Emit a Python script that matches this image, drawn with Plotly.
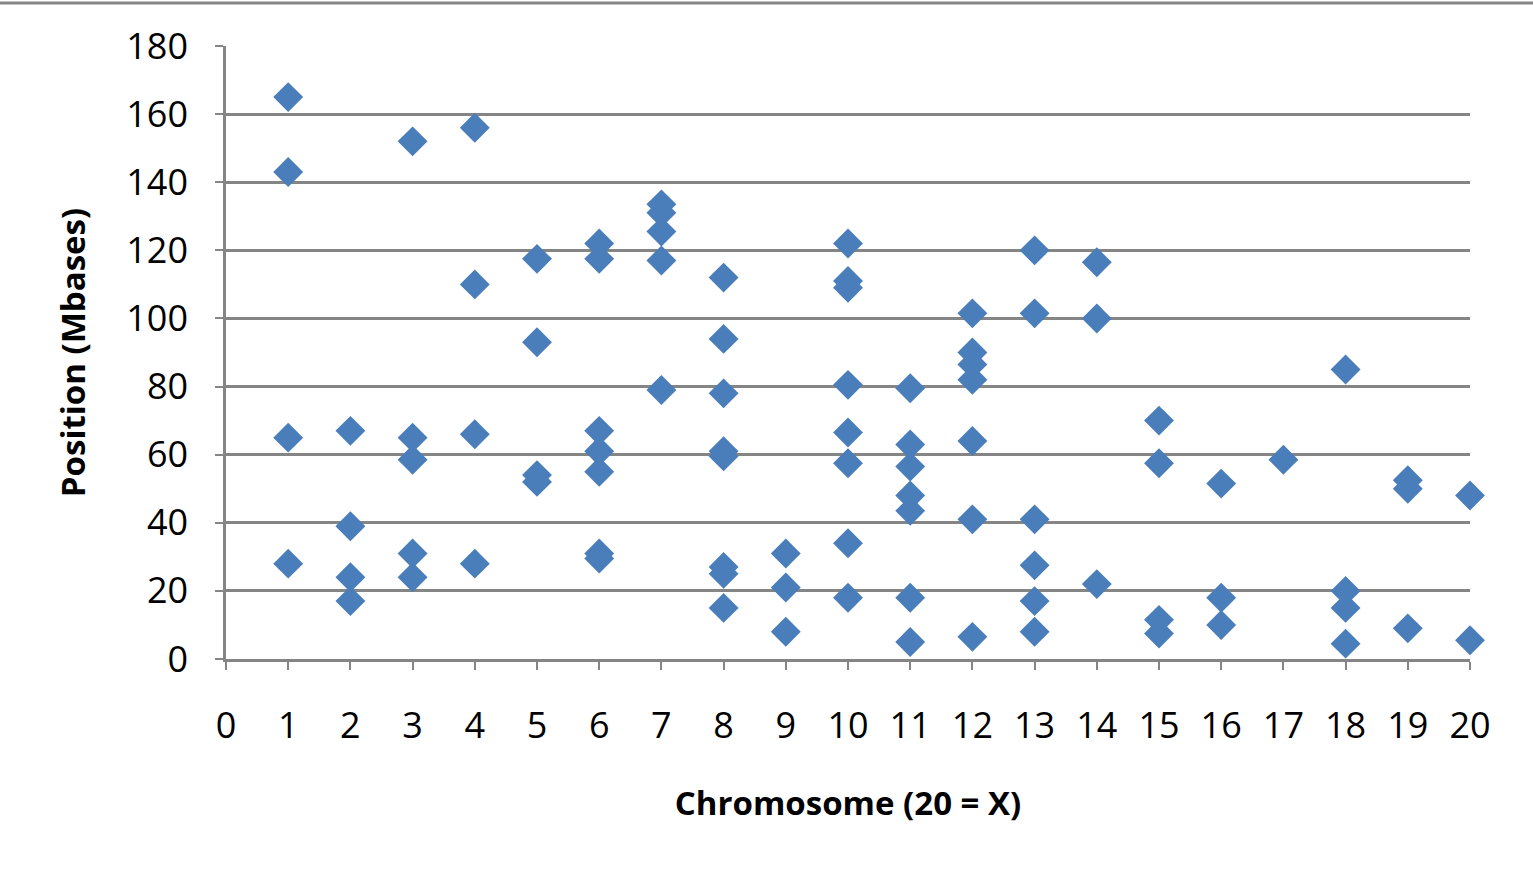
import plotly.graph_objects as go

# Chromosome number for each point (20 = X)
chromosome = (
    [1] * 4 + [2] * 4 + [3] * 5 + [4] * 4 + [5] * 4 + [6] * 7 + [7] * 5 +
    [8] * 8 + [9] * 3 + [10] * 8 + [11] * 7 + [12] * 7 + [13] * 6 + [14] * 3 +
    [15] * 4 + [16] * 3 + [17] * 1 + [18] * 4 + [19] * 3 + [20] * 2
)

# Position in Mbases
position = [
    165, 143, 65, 28,                      # 1
    67, 39, 24, 17,                        # 2
    152, 65, 58.5, 31, 24,                 # 3
    156, 110, 66, 28,                      # 4
    117.5, 93, 54, 52,                     # 5
    122, 117.5, 67, 61, 55, 31, 29.5,      # 6
    133.5, 131, 125.5, 117, 79,            # 7
    112, 94, 78, 61, 59.5, 27, 25, 15,     # 8
    31, 21, 8,                             # 9
    122, 111, 109, 80.5, 66.5, 57.5, 34, 18,  # 10
    79.5, 63, 56.5, 48, 43.5, 18, 5,       # 11
    101.5, 90, 86.5, 82, 64, 41, 6.5,      # 12
    120, 101.5, 41, 27.5, 17, 8,           # 13
    116.5, 100, 22,                        # 14
    70, 57.5, 11.5, 7.5,                   # 15
    51.5, 18, 10,                          # 16
    58.5,                                  # 17
    85, 20, 15, 4.5,                       # 18
    52.5, 50, 9,                           # 19
    48, 5.5,                               # 20
]

x_ticks = list(range(0, 21))
y_ticks = list(range(0, 181, 20))

FONT = "Open Sans, Noto Sans, sans-serif"
GRID = "#858585"

fig = go.Figure()
fig.add_trace(go.Scatter(
    x=chromosome, y=position, mode="markers",
    marker=dict(symbol="diamond", size=23, color="#4A7EBB",
                line=dict(width=0)),
    cliponaxis=False, showlegend=False,
))

fig.update_layout(
    width=1533, height=873,
    margin=dict(l=226, r=63, t=46, b=214),
    paper_bgcolor="white", plot_bgcolor="white",
    font=dict(family=FONT, color="black"),
    xaxis=dict(
        range=[0, 20], tickvals=x_ticks, ticktext=[str(v) for v in x_ticks],
        showgrid=False, zeroline=False,
        showline=True, linecolor=GRID, linewidth=2.5,
        ticks="outside", ticklen=8, tickwidth=2, tickcolor=GRID,
        tickfont=dict(size=36, family=FONT, color="black"),
        ticklabelstandoff=25,
        title=dict(text="<b>Chromosome (20 = X)</b>",
                   font=dict(size=33, family=FONT, color="black"),
                   standoff=44),
    ),
    yaxis=dict(
        range=[0, 180], tickvals=y_ticks, ticktext=[str(v) for v in y_ticks],
        showgrid=True, gridcolor=GRID, gridwidth=2.5, zeroline=False,
        showline=True, linecolor=GRID, linewidth=2.5,
        ticks="outside", ticklen=8, tickwidth=2, tickcolor=GRID,
        tickfont=dict(size=36, family=FONT, color="black"),
        ticklabelstandoff=20,
        title=dict(text="<b>Position (Mbases)</b>",
                   font=dict(size=33, family=FONT, color="black"),
                   standoff=31),
    ),
)

# Top border line of the chart frame
fig.add_shape(type="line", xref="paper", yref="paper",
              x0=-226 / 1244, x1=(1533 - 226) / 1244,
              y0=(659 - 3) / 613, y1=(659 - 3) / 613,
              line=dict(color=GRID, width=3))

fig.write_html("out.html")
